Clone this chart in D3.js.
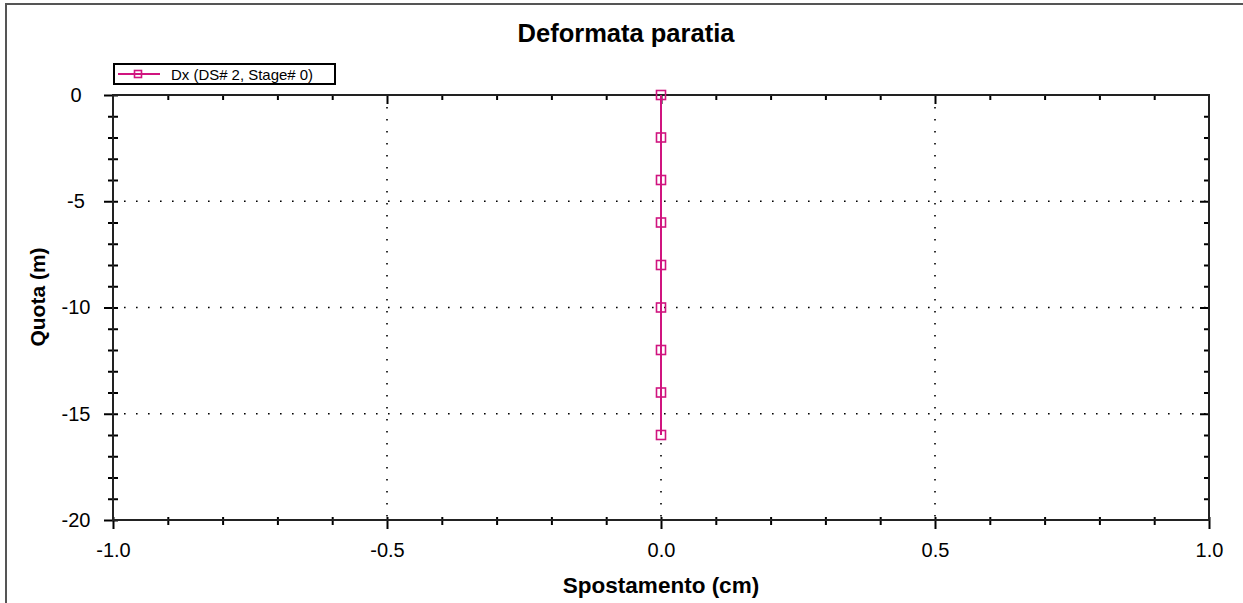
<!DOCTYPE html>
<html>
<head>
<meta charset="utf-8">
<script src="https://cdn.jsdelivr.net/npm/d3@7"></script>
<style>
  html, body { margin: 0; padding: 0; background: #fff; }
  svg { display: block; font-family: "Liberation Sans", Arial, sans-serif; }
</style>
</head>
<body>
<svg id="chart" width="1243" height="603"></svg>
<script>
// ── data ─────────────────────────────────────
const TITLE = 'Deformata paratia';
const X_LABEL = 'Spostamento (cm)';
const Y_LABEL = 'Quota (m)';
const SERIES_NAME = 'Dx (DS# 2, Stage# 0)';
const X_TICKS = [-1.0, -0.5, 0.0, 0.5, 1.0];
const Y_TICKS = [0, -5, -10, -15, -20];
const QUOTA = [0, -2, -4, -6, -8, -10, -12, -14, -16];
const DX    = [0, 0, 0, 0, 0, 0, 0, 0, 0];

const SERIES_COLOR = '#d0147f';

// plain hyphen instead of d3's unicode minus
const fmtX = v => v.toFixed(1).replace('\u2212', '-');
const fmtY = v => String(v);

function renderChart() {
  const svg = d3.select('#chart');
  const W = +svg.attr('width'), H = +svg.attr('height');
  const M = { left: 113, right: W - 1209, top: 95, bottom: H - 520 };

  const x = d3.scaleLinear().domain([-1, 1]).range([M.left, W - M.right]);
  const y = d3.scaleLinear().domain([-20, 0]).range([H - M.bottom, M.top]);

  // outer frame (right/bottom edges fall outside the picture)
  svg.append('rect').attr('x', 6).attr('y', 4).attr('width', W + 10).attr('height', H + 10)
    .attr('fill', 'none').attr('stroke', '#555').attr('stroke-width', 2);

  svg.append('text').attr('x', 626).attr('y', 42).attr('text-anchor', 'middle')
    .attr('font-size', 25.5).attr('font-weight', 'bold').text(TITLE);

  // dotted grid on inner majors only
  const grid = svg.append('g').attr('stroke', '#000').attr('stroke-width', 1.6)
    .attr('stroke-dasharray', '1.6 10.4');
  X_TICKS.slice(1, -1).forEach(v => {
    grid.append('line').attr('x1', x(v)).attr('x2', x(v)).attr('y1', y(0) + 12).attr('y2', y(-20));
  });
  Y_TICKS.slice(1, -1).forEach(v => {
    grid.append('line').attr('y1', y(v)).attr('y2', y(v)).attr('x1', x(-1) + 11).attr('x2', x(1));
  });

  // axes via d3 axis generators, ticks adjusted to cross the frame
  const xMinor = d3.range(-10, 11).map(i => i / 10).filter(v => !X_TICKS.includes(v));
  const yMinor = d3.range(-20, 1).filter(v => !Y_TICKS.includes(v));

  const bottom = svg.append('g').attr('transform', `translate(0,${y(-20)})`);
  bottom.append('g').call(d3.axisBottom(x).tickValues(xMinor).tickSize(5).tickSizeOuter(0).tickFormat(''));
  bottom.append('g').call(d3.axisBottom(x).tickValues(X_TICKS).tickSize(9).tickSizeOuter(0)
    .tickFormat(fmtX).tickPadding(14));
  bottom.selectAll('.tick line').attr('y1', -3);

  const top = svg.append('g').attr('transform', `translate(0,${y(0)})`);
  top.append('g').call(d3.axisBottom(x).tickValues(xMinor).tickSize(5).tickSizeOuter(0).tickFormat(''));
  top.append('g').call(d3.axisBottom(x).tickValues(X_TICKS.slice(1, -1)).tickSize(9).tickSizeOuter(0).tickFormat(''));

  const left = svg.append('g').attr('transform', `translate(${x(-1)},0)`);
  left.append('g').call(d3.axisLeft(y).tickValues(yMinor).tickSize(5).tickSizeOuter(0).tickFormat(''));
  left.append('g').call(d3.axisLeft(y).tickValues(Y_TICKS).tickSize(9).tickSizeOuter(0).tickFormat(fmtY));
  left.selectAll('.tick line').attr('x1', 5);
  left.selectAll('.tick text').attr('text-anchor', 'middle').attr('x', 76 - x(-1));

  const right = svg.append('g').attr('transform', `translate(${x(1)},0)`);
  right.append('g').call(d3.axisRight(y).tickValues(yMinor).tickSize(-5).tickSizeOuter(0).tickFormat(''));
  right.append('g').call(d3.axisRight(y).tickValues(Y_TICKS.slice(1, -1)).tickSize(-9).tickSizeOuter(0).tickFormat(''));

  svg.selectAll('.domain').remove();
  svg.selectAll('.tick line').attr('stroke', '#000').attr('stroke-width', 2);
  svg.selectAll('.tick text').attr('font-size', 20).attr('fill', '#000')
    .attr('font-family', '"Liberation Sans", Arial, sans-serif');

  // plot frame
  svg.append('rect').attr('x', x(-1)).attr('y', y(0))
    .attr('width', x(1) - x(-1)).attr('height', y(-20) - y(0))
    .attr('fill', 'none').attr('stroke', '#222').attr('stroke-width', 2);

  // axis titles
  svg.append('text').attr('x', (x(-1) + x(1)) / 2).attr('y', 593).attr('text-anchor', 'middle')
    .attr('font-size', 22.5).attr('font-weight', 'bold').text(X_LABEL);
  svg.append('text').attr('transform', 'translate(45,297) rotate(-90)').attr('text-anchor', 'middle')
    .attr('font-size', 21).attr('font-weight', 'bold').text(Y_LABEL);

  // series
  const pts = QUOTA.map((q, i) => ({ q, dx: DX[i] }));
  svg.append('path').datum(pts)
    .attr('d', d3.line().x(d => x(d.dx)).y(d => y(d.q)))
    .attr('fill', 'none').attr('stroke', SERIES_COLOR).attr('stroke-width', 2);
  svg.selectAll('.mk').data(pts).enter().append('rect').attr('class', 'mk')
    .attr('x', d => x(d.dx) - 4.5).attr('y', d => y(d.q) - 4.5)
    .attr('width', 9).attr('height', 9)
    .attr('fill', 'none').attr('stroke', SERIES_COLOR).attr('stroke-width', 1.6);

  // legend
  const lg = svg.append('g');
  lg.append('rect').attr('x', 114).attr('y', 64).attr('width', 221).attr('height', 20)
    .attr('fill', '#fff').attr('stroke', '#000').attr('stroke-width', 2);
  lg.append('line').attr('x1', 118).attr('x2', 160).attr('y1', 74).attr('y2', 74)
    .attr('stroke', SERIES_COLOR).attr('stroke-width', 2);
  lg.append('rect').attr('x', 134.5).attr('y', 70.5).attr('width', 7).attr('height', 7)
    .attr('fill', 'none').attr('stroke', SERIES_COLOR).attr('stroke-width', 1.6);
  lg.append('text').attr('x', 171).attr('y', 80).attr('font-size', 15)
    .attr('textLength', 142).attr('lengthAdjust', 'spacingAndGlyphs')
    .text(SERIES_NAME);
}

renderChart();
</script>
</body>
</html>
